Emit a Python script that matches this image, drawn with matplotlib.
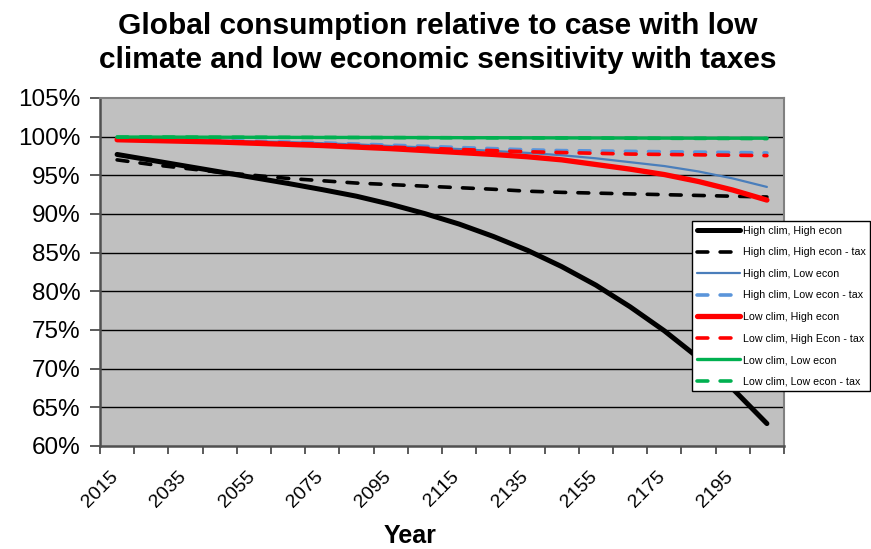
import matplotlib
matplotlib.use("Agg")
import matplotlib.pyplot as plt
from matplotlib.ticker import MultipleLocator, FixedLocator, FuncFormatter

plt.rcParams['font.family'] = ['Liberation Sans', 'DejaVu Sans']

# Years of the model runs (10-year steps)
years = [2020, 2030, 2040, 2050, 2060, 2070, 2080, 2090, 2100, 2110,
         2120, 2130, 2140, 2150, 2160, 2170, 2180, 2190, 2200, 2210]

# Consumption relative to the low-climate / low-economic-sensitivity case (%)
high_clim_high_econ = [97.7, 96.95, 96.2, 95.45, 94.7, 93.95, 93.15, 92.3, 91.25, 90.05,
                       88.7, 87.1, 85.3, 83.2, 80.8, 78.0, 74.9, 71.4, 67.4, 62.9]
high_clim_high_econ_tax = [97.0, 96.4, 95.9, 95.4, 95.0, 94.6, 94.3, 94.0, 93.8, 93.6,
                           93.4, 93.2, 92.95, 92.8, 92.7, 92.6, 92.5, 92.4, 92.3, 92.2]
high_clim_low_econ = [99.8, 99.7, 99.6, 99.5, 99.4, 99.3, 99.15, 99.0, 98.8, 98.6,
                      98.4, 98.15, 97.9, 97.6, 97.2, 96.7, 96.2, 95.5, 94.6, 93.5]
high_clim_low_econ_tax = [99.8, 99.7, 99.6, 99.5, 99.4, 99.3, 99.2, 99.05, 98.9, 98.75,
                          98.6, 98.45, 98.3, 98.2, 98.15, 98.1, 98.05, 98.0, 97.95, 97.9]
low_clim_high_econ = [99.6, 99.5, 99.4, 99.3, 99.15, 99.0, 98.85, 98.65, 98.45, 98.2,
                      97.95, 97.7, 97.4, 97.0, 96.4, 95.8, 95.1, 94.2, 93.1, 91.8]
low_clim_high_econ_tax = [99.7, 99.6, 99.5, 99.4, 99.3, 99.15, 99.0, 98.85, 98.65, 98.5,
                          98.35, 98.2, 98.05, 97.95, 97.85, 97.75, 97.7, 97.65, 97.6, 97.55]
low_clim_low_econ = [99.95, 99.95, 99.94, 99.93, 99.92, 99.91, 99.9, 99.9, 99.89, 99.88,
                     99.87, 99.86, 99.85, 99.84, 99.83, 99.82, 99.81, 99.8, 99.8, 99.8]
low_clim_low_econ_tax = [99.95, 99.95, 99.94, 99.93, 99.92, 99.91, 99.9, 99.89, 99.88, 99.87,
                         99.86, 99.85, 99.84, 99.83, 99.82, 99.8, 99.79, 99.78, 99.77, 99.75]

series_labels = ["High clim, High econ", "High clim, High econ - tax",
                 "High clim, Low econ", "High clim, Low econ - tax",
                 "Low clim, High econ", "Low clim, High Econ - tax",
                 "Low clim, Low econ", "Low clim, Low econ - tax"]

x_label_years = [2015, 2035, 2055, 2075, 2095, 2115, 2135, 2155, 2175, 2195]
x_tick_years = list(range(2015, 2216, 10))

W, H = 871, 549
fig = plt.figure(figsize=(W / 100, H / 100), dpi=100)
ax = fig.add_axes([100 / W, 1 - 446 / H, 684 / W, 348 / H])
ax.set_facecolor('#C0C0C0')

dash = (0, (3.0, 3.4))
styles = [
    dict(color='black', lw=3.6, ls='-'),
    dict(color='black', lw=2.6, ls=dash),
    dict(color='#4A7EBB', lw=1.6, ls='-'),
    dict(color='#5B95DA', lw=2.6, ls=dash),
    dict(color='#FF0000', lw=3.8, ls='-'),
    dict(color='#FF0000', lw=2.6, ls=dash),
    dict(color='#00B050', lw=2.4, ls='-'),
    dict(color='#00B050', lw=2.6, ls=dash),
]
data = [high_clim_high_econ, high_clim_high_econ_tax,
        high_clim_low_econ, high_clim_low_econ_tax,
        low_clim_high_econ, low_clim_high_econ_tax,
        low_clim_low_econ, low_clim_low_econ_tax]

for vals, lab, st in zip(data, series_labels, styles):
    ax.plot(years, vals, color=st['color'], lw=st['lw'], linestyle=st['ls'],
            label=lab, solid_capstyle='round', dash_capstyle='round',
            solid_joinstyle='round')

ax.set_xlim(2015, 2215)
ax.set_ylim(60, 105)

# Horizontal gridlines
for g in range(65, 105, 5):
    ax.axhline(g, color='black', lw=1.0, zorder=0.5)

ax.yaxis.set_major_locator(MultipleLocator(5))
ax.yaxis.set_major_formatter(FuncFormatter(lambda v, p: f"{v:.0f}%"))
ax.xaxis.set_major_locator(FixedLocator(x_label_years))
ax.xaxis.set_minor_locator(FixedLocator([y for y in x_tick_years if y not in x_label_years]))
ax.xaxis.set_major_formatter(FuncFormatter(lambda v, p: f"{v:.0f}"))

ax.tick_params(axis='y', which='major', length=7, width=1.2, color='#404040',
               labelsize=17.5, pad=7, direction='out')
ax.tick_params(axis='x', which='both', length=6, width=1.2, color='#404040',
               direction='out')
ax.tick_params(axis='x', which='major', labelsize=14, pad=10)
for lbl in ax.get_xticklabels():
    lbl.set_rotation(45)
    lbl.set_ha('center')
    lbl.set_va('top')

for side in ['top', 'right']:
    ax.spines[side].set_color('#808080')
    ax.spines[side].set_linewidth(1.5)
for side in ['left', 'bottom']:
    ax.spines[side].set_color('#505050')
    ax.spines[side].set_linewidth(1.8)

fig.text(438 / W, 1 - 43 / H,
         "Global consumption relative to case with low\nclimate and low economic sensitivity with taxes",
         ha='center', va='center', fontsize=21.5, fontweight='bold', linespacing=1.28)
fig.text(410 / W, 1 - 536 / H, "Year", ha='center', va='center',
         fontsize=18, fontweight='bold')

leg = ax.legend(loc='upper left', bbox_to_anchor=(692 / W, 1 - 221 / H),
                bbox_transform=fig.transFigure, fontsize=7.7, frameon=True,
                fancybox=False, handlelength=4.0, handletextpad=0.3,
                labelspacing=1.08, borderpad=0.45, borderaxespad=0)
leg.get_frame().set_edgecolor('black')
leg.get_frame().set_linewidth(1.0)
leg.get_frame().set_facecolor('white')
leg.get_frame().set_alpha(1)

fig.savefig('out.png', dpi=100)
